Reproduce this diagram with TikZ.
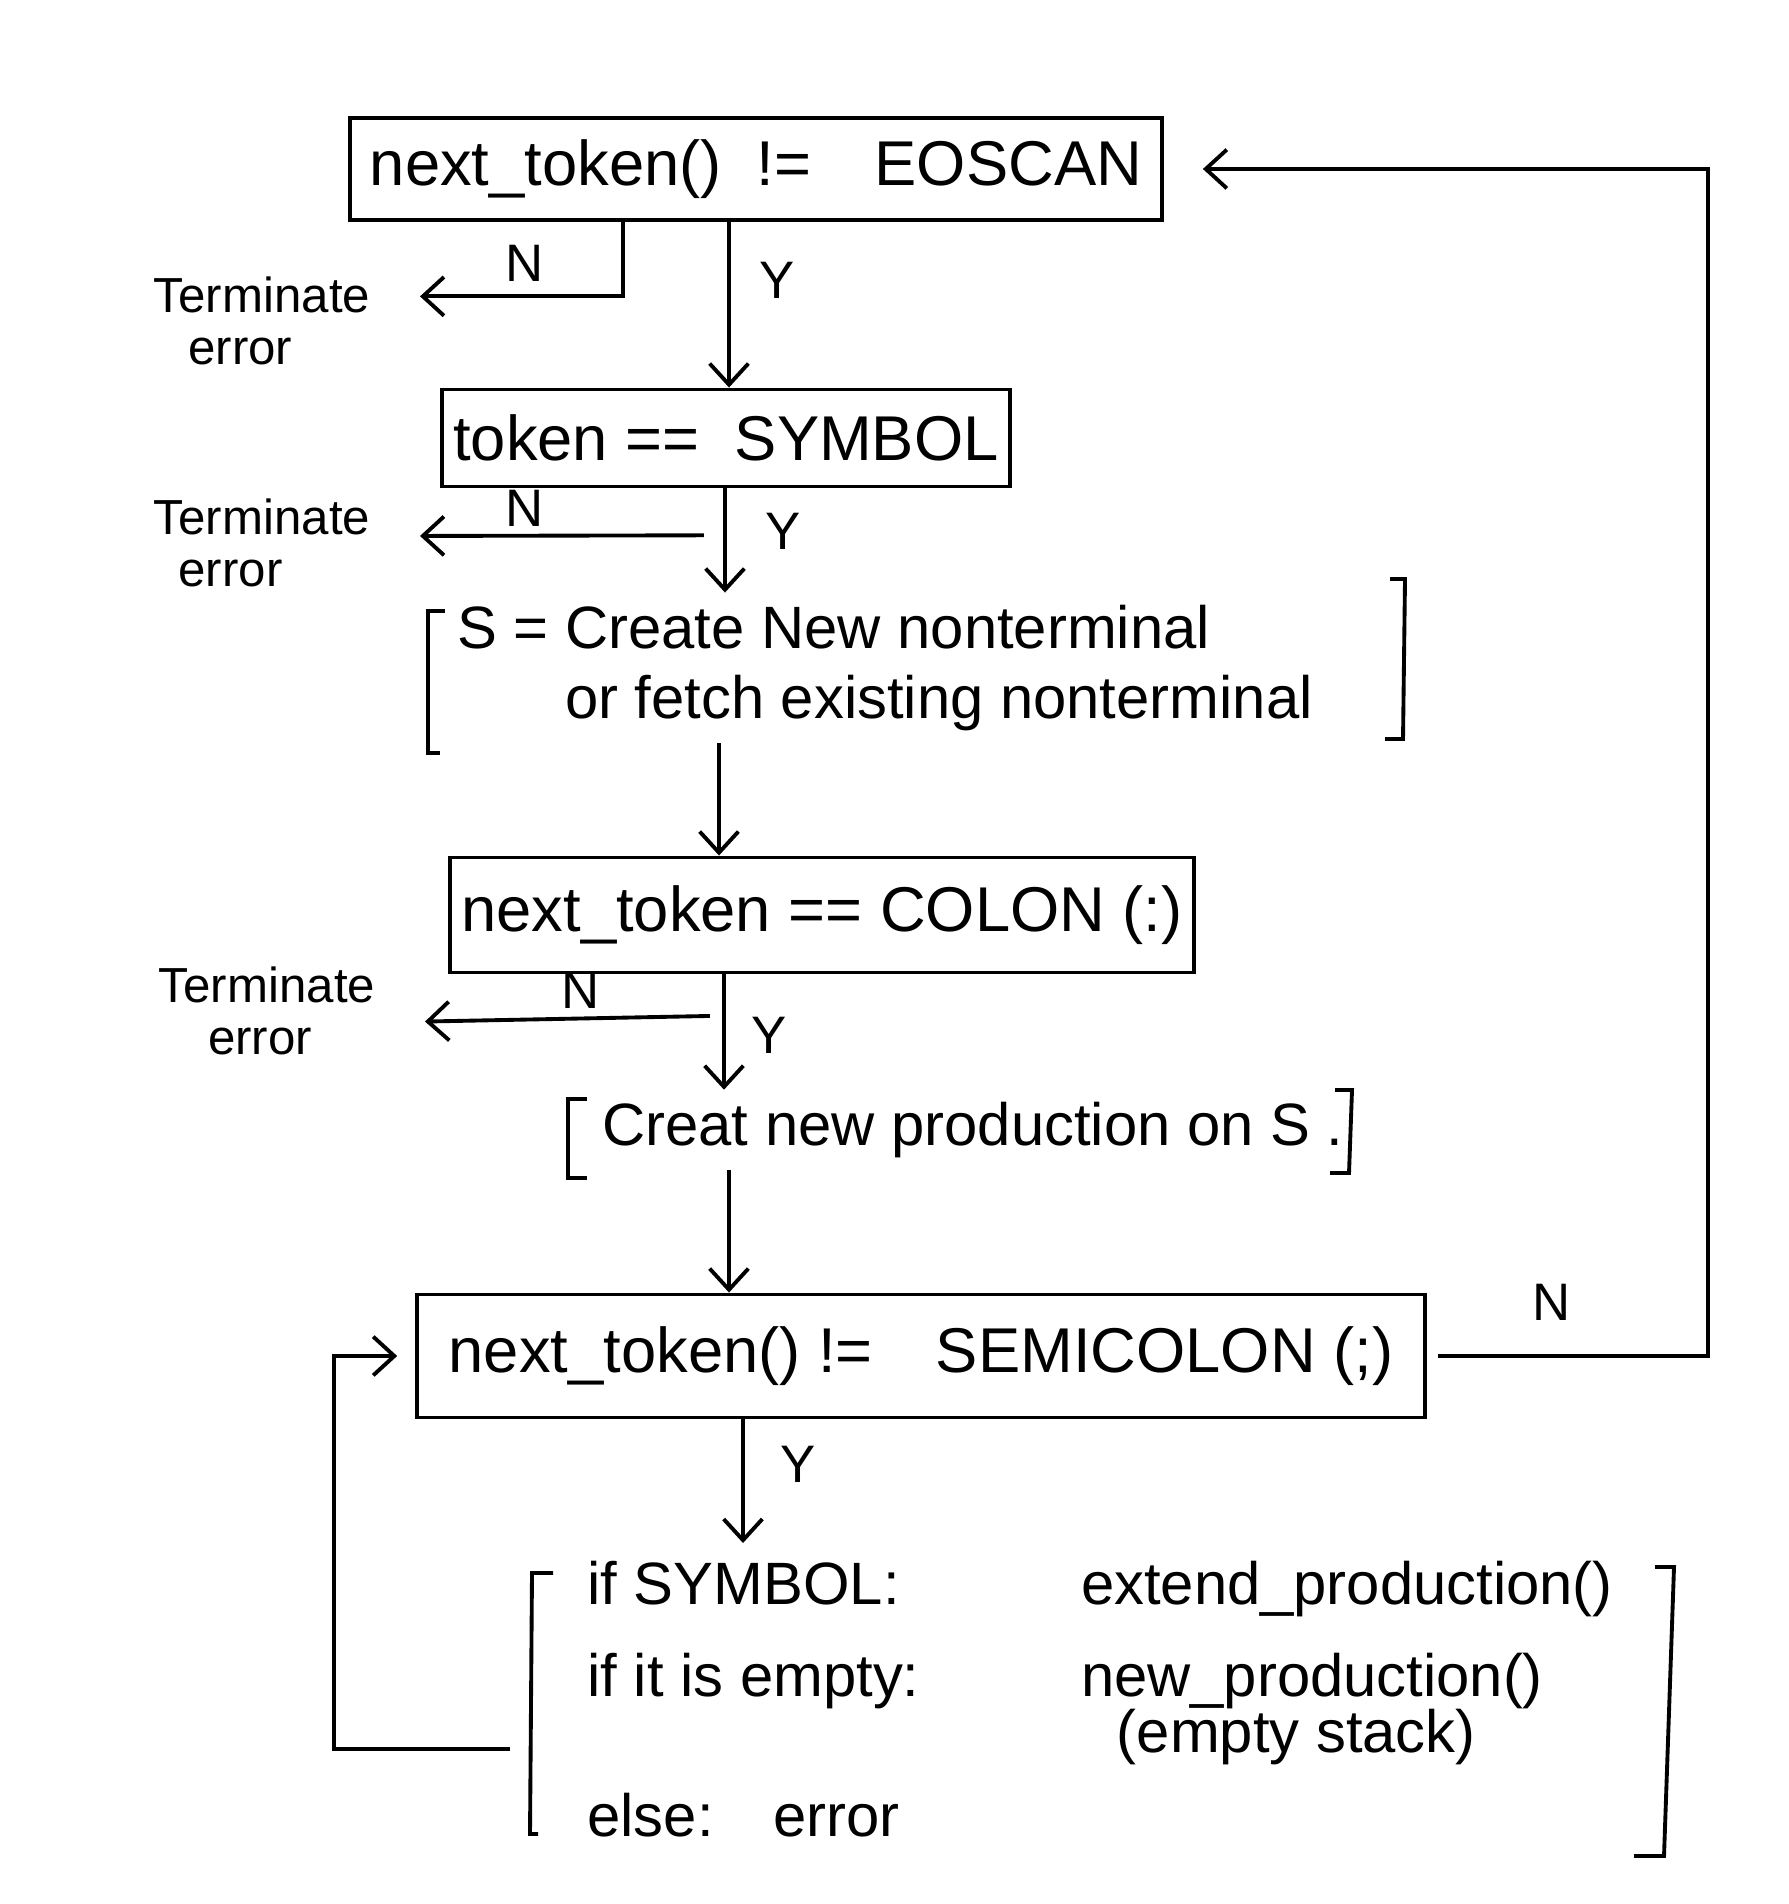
\documentclass[tikz,border=0pt]{standalone}
\usepackage{fontspec}
\setmainfont{Liberation Sans}
\usetikzlibrary{positioning, arrows.meta, calc}

\begin{document}
\begin{tikzpicture}[x=0.01cm, y=-0.01cm,
    test/.style={draw, line width=1.1pt, font=\fontsize{18}{22}\selectfont},
    act/.style={font=\fontsize{17}{20}\selectfont, align=left},
    term/.style={font=\fontsize{14}{15}\selectfont, align=left, anchor=east, inner xsep=14pt},
    lab/.style={font=\fontsize{15}{18}\selectfont},
    brk/.style={line width=1.1pt},
    flow/.style={-{Straight Barb[length=6pt, width=11pt]}, line width=1.1pt}]
    \useasboundingbox (0,0) rectangle (1788,1904);
    % columns of the arrows
    \coordinate (c1) at (623,0);
    \coordinate (c2) at (725,0);
    \coordinate (c3) at (719,0);
    \coordinate (c4) at (724,0);
    \coordinate (c5) at (729,0);
    \coordinate (c6) at (743,0);

    % Tests
    \node[test, minimum width=8.12cm, minimum height=1.02cm] (q1) at (756,169) {next\_token()\ \ !=\quad EOSCAN};
    \node[test, minimum width=5.62cm, minimum height=0.97cm] (q2) at (726,438) {token ==\ \ SYMBOL};
    \node[test, minimum width=7.2cm, minimum height=1.15cm] (q3) at (822,915) {next\_token == COLON (:)};
    \node[test, minimum width=10.08cm, minimum height=1.23cm] (q4) at (921,1356) {next\_token() !=\quad SEMICOLON (;)};

    % Actions
    \node[act, anchor=west] (a1) at (445,668) {S = Create New nonterminal\\\hspace*{1.8em}or fetch existing nonterminal};
    \node[act, anchor=west] (a2) at (590,1130) {Creat new production on S .};
    \node[act, anchor=north west] (a3) at (575,1543) {\begin{tabular}{@{}l@{\hspace{2.7em}}l@{}}
        if SYMBOL: & extend\_production()\\[6pt]
        if it is empty: & new\_production()\\[-4pt]
        & \hspace*{0.6em}(empty stack)\\[4pt]
        else:\quad error &
    \end{tabular}};

    % Brackets
    \draw[brk] (445,611) -- (428,611) -- (428,753) -- (440,753);
    \draw[brk] (1390,579) -- (1405,579) -- (1403,739) -- (1385,739);
    \draw[brk] (587,1099) -- (568,1099) -- (568,1178) -- (587,1178);
    \draw[brk] (1335,1090) -- (1352,1090) -- (1349,1173) -- (1330,1173);
    \draw[brk] (553,1573) -- (532,1573) -- (530,1834) -- (538,1834);
    \draw[brk] (1655,1567) -- (1674,1567) -- (1664,1856) -- (1634,1856);

    % Terminate
    \node[term] (t1) at (420,321) {Terminate\\\hspace*{0.7em}error};
    \node[term] (t2) at (420,543) {Terminate\\\hspace*{0.5em}error};
    \node[term] (t3) at (425,1011) {Terminate\\\hspace*{1em}error};

    % Main flow
    \draw[flow] (q1.south -| c5) -- (q2.north -| c5);
    \draw[flow] (q2.south -| c2) -- (a1.north -| c2) coordinate[pos=0.45] (s2);
    \draw[flow] (a1.south -| c3) -- (q3.north -| c3);
    \draw[flow] (q3.south -| c4) -- (a2.north -| c4) coordinate[pos=0.36] (s3);
    \draw[flow] (a2.south -| c5) -- (q4.north -| c5);
    \draw[flow] (q4.south -| c6) -- (a3.north -| c6);

    % No branches
    \draw[flow] (q1.south -| c1) |- ([yshift=7pt]t1.east);
    \draw[flow] ([xshift=-6pt]s2) -- ([yshift=2pt]t2.east);
    \draw[flow] ([xshift=-4pt]s3) -- ([yshift=-3pt]t3.east);

    % Loops
    \coordinate (lp) at (510,1749);
    \draw[flow] (lp) -- ++(-176,0) |- ([xshift=-5pt]q4.west);
    \draw[flow] ([xshift=3pt]q4.east) -- ++(270,0) |- ([xshift=11pt]q1.east);

    % Labels
    \node[lab] (y1) at (777,280) {Y};
    \node[lab] (n1) at (525,263) {N};
    \node[lab] (y2) at (783,531) {Y};
    \node[lab] (n2) at (525,508) {N};
    \node[lab] (y3) at (769,1035) {Y};
    \node[lab] (n3) at (581,990) {N};
    \node[lab] (y4) at (798,1464) {Y};
    \node[lab] (n4) at (1552,1302) {N};
\end{tikzpicture}
\end{document}
